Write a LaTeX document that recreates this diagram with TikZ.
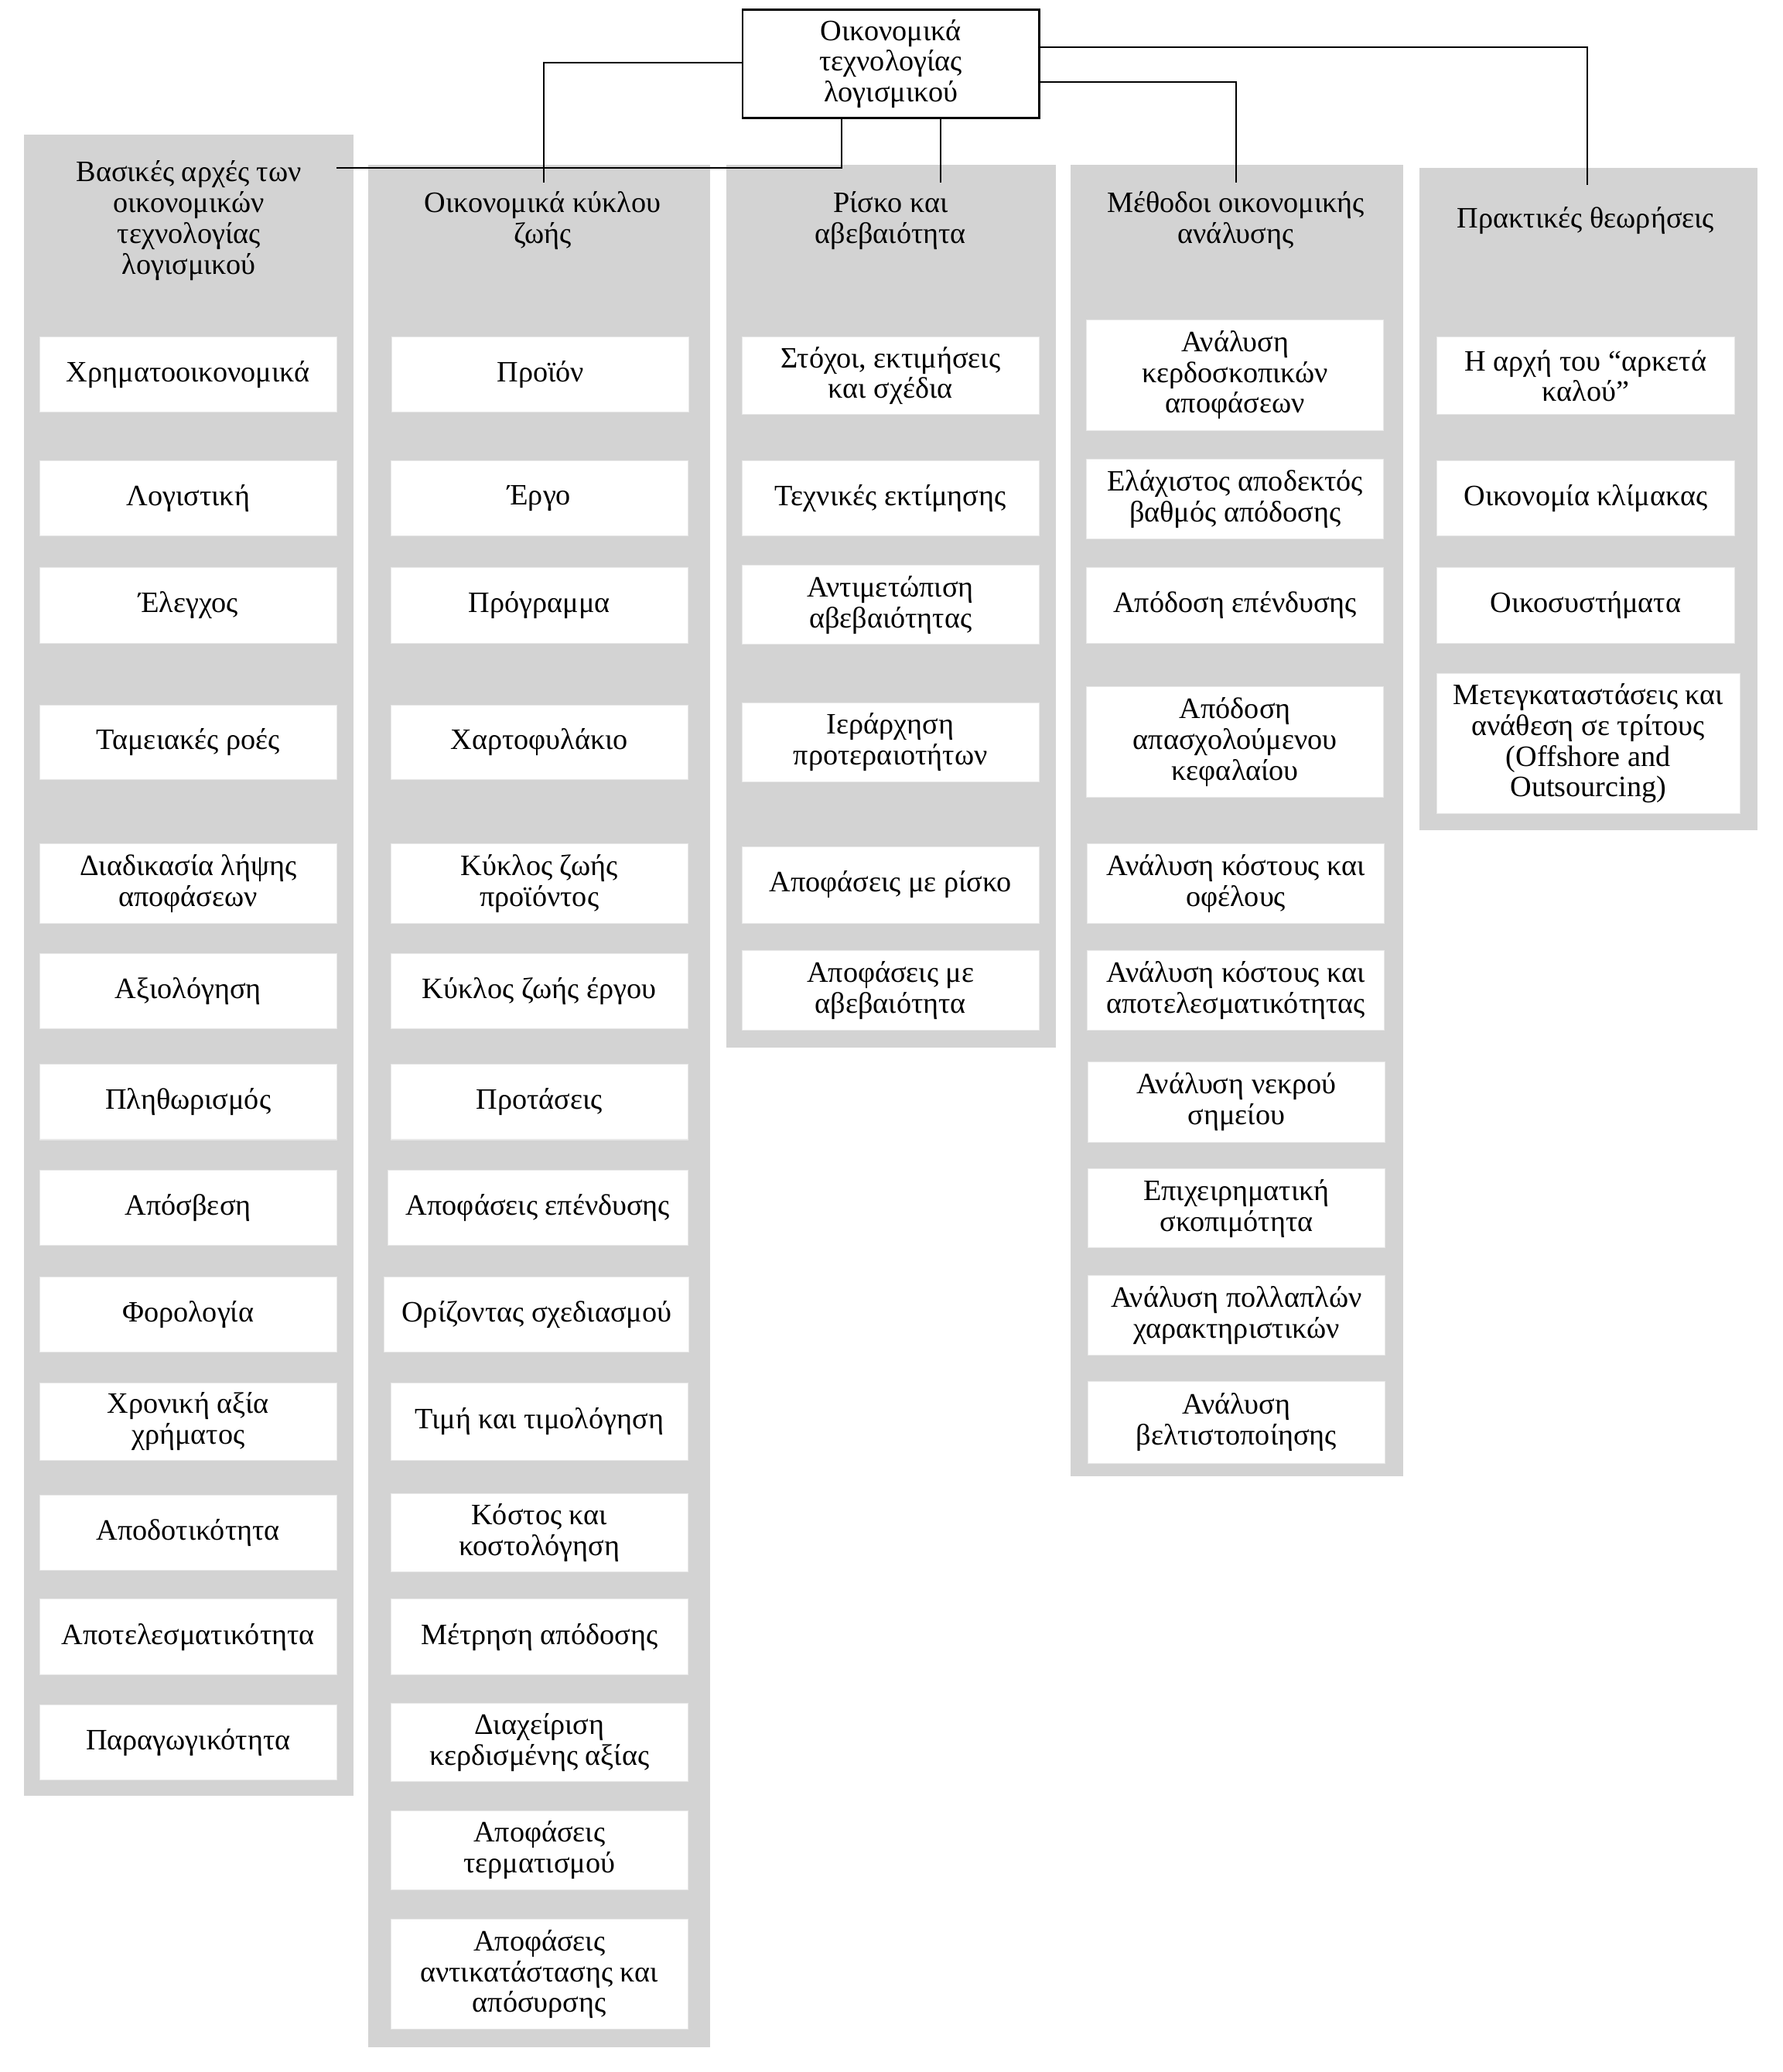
\documentclass[tikz,border=0pt]{standalone}
\usepackage{fontspec}
\setmainfont{Liberation Serif}
\definecolor{colgray}{RGB}{211,211,211}
\definecolor{boxedge}{RGB}{232,232,232}
\newcommand\wbx[6][225]{\node[wbox,minimum width=#1pt,minimum height=#5pt] (#2) at (#3,#4) {#6};}
\begin{document}
\begin{tikzpicture}[x=1pt,y=-1pt,
  every node/.style={font=\fontsize{22.4}{23.3}\selectfont, align=center, inner sep=0pt},
  wbox/.style={fill=white, draw=boxedge, line width=0.6pt},
  rootbox/.style={fill=white, draw=black, line width=1.6pt, minimum width=224.5pt, minimum height=82.3pt},
  link/.style={draw=black, line width=1.2pt}]
\useasboundingbox (0,0) rectangle (1350,1569);
\fill[white] (0,0) rectangle (1350,1569);
% columns
\fill[colgray] (18,102) rectangle (268,1360);
\fill[colgray] (279,125) rectangle (538,1550);
\fill[colgray] (550,125) rectangle (800,793);
\fill[colgray] (811,125) rectangle (1063,1118);
\fill[colgray] (1075,127) rectangle (1331,628.5);
% root
\node[rootbox] (root) at (674.75,48.35) {Οικονομικά\\τεχνολογίας\\λογισμικού};
% headers
\node (h1) at (143,167) {Βασικές αρχές των\\οικονομικών\\τεχνολογίας\\λογισμικού};
\node (h2) at (411,167) {Οικονομικά κύκλου\\ζωής};
\node (h3) at (674.5,167) {Ρίσκο και\\αβεβαιότητα};
\node (h4) at (936,167) {Μέθοδοι οικονομικής\\ανάλυσης};
\node (h5) at (1201,167) {Πρακτικές θεωρήσεις};
% column 1
\wbx{a1}{142.5}{283.5}{57}{Χρηματοοικονομικά}
\wbx{a2}{142.5}{377.5}{57}{Λογιστική}
\wbx{a3}{142.5}{458.5}{57}{Έλεγχος}
\wbx{a4}{142.5}{562}{56}{Ταμειακές ροές}
\wbx{a5}{142.5}{669}{60}{Διαδικασία λήψης\\αποφάσεων}
\wbx{a6}{142.5}{750.5}{57}{Αξιολόγηση}
\wbx{a7}{142.5}{834.5}{57}{Πληθωρισμός}
\wbx{a8}{142.5}{914.5}{57}{Απόσβεση}
\wbx{a9}{142.5}{995.5}{57}{Φορολογία}
\wbx{a10}{142.5}{1076.5}{59}{Χρονική αξία\\χρήματος}
\wbx{a11}{142.5}{1160.5}{57}{Αποδοτικότητα}
\wbx{a12}{142.5}{1239.5}{57}{Αποτελεσματικότητα}
\wbx{a13}{142.5}{1319.5}{57}{Παραγωγικότητα}
% column 2
\wbx{b1}{409.5}{283.5}{57}{Προϊόν}
\wbx{b2}{408.5}{377.5}{57}{Έργο}
\wbx{b3}{408.5}{458.5}{57}{Πρόγραμμα}
\wbx{b4}{408.5}{562}{56}{Χαρτοφυλάκιο}
\wbx{b5}{408.5}{669}{60}{Κύκλος ζωής\\προϊόντος}
\wbx{b6}{408.5}{750.5}{57}{Κύκλος ζωής έργου}
\wbx{b7}{408.5}{834.5}{57}{Προτάσεις}
\wbx[227]{b8}{407.5}{914.5}{57}{Αποφάσεις επένδυσης}
\wbx[231]{b9}{406.5}{995.5}{57}{Ορίζοντας σχεδιασμού}
\wbx{b10}{408.5}{1076.5}{59}{Τιμή και τιμολόγηση}
\wbx{b11}{408.5}{1160.5}{59}{Κόστος και\\κοστολόγηση}
\wbx{b12}{408.5}{1239.5}{57}{Μέτρηση απόδοσης}
\wbx{b13}{408.5}{1319.5}{59}{Διαχείριση\\κερδισμένης αξίας}
\wbx{b14}{408.5}{1401}{60}{Αποφάσεις\\τερματισμού}
\wbx{b15}{408.5}{1495}{83}{Αποφάσεις\\αντικατάστασης και\\απόσυρσης}
% column 3
\wbx{c1}{674.5}{284.5}{59}{Στόχοι, εκτιμήσεις\\και σχέδια}
\wbx{c2}{674.5}{377.5}{57}{Τεχνικές εκτίμησης}
\wbx{c3}{674.5}{458}{60}{Αντιμετώπιση\\αβεβαιότητας}
\wbx{c4}{674.5}{562}{60}{Ιεράρχηση\\προτεραιοτήτων}
\wbx{c5}{674.5}{670}{58}{Αποφάσεις με ρίσκο}
\wbx{c6}{674.5}{750}{60}{Αποφάσεις με\\αβεβαιότητα}
% column 4
\wbx{d1}{935.5}{284}{84}{Ανάλυση\\κερδοσκοπικών\\αποφάσεων}
\wbx{d2}{935.5}{378}{60}{Ελάχιστος αποδεκτός\\βαθμός απόδοσης}
\wbx{d3}{935.5}{458.5}{57}{Απόδοση επένδυσης}
\wbx{d4}{935.5}{562}{84}{Απόδοση\\απασχολούμενου\\κεφαλαίου}
\wbx{d5}{936}{669}{60}{Ανάλυση κόστους και\\οφέλους}
\wbx{d6}{936}{750}{60}{Ανάλυση κόστους και\\αποτελεσματικότητας}
\wbx{d7}{936.5}{834.5}{61}{Ανάλυση νεκρού\\σημείου}
\wbx{d8}{936.5}{915}{60}{Επιχειρηματική\\σκοπιμότητα}
\wbx{d9}{936.5}{996}{60}{Ανάλυση πολλαπλών\\χαρακτηριστικών}
\wbx{d10}{936.5}{1077}{62}{Ανάλυση\\βελτιστοποίησης}
% column 5
\wbx[226]{e1}{1201}{284.5}{59}{Η αρχή του “αρκετά\\καλού”}
\wbx[226]{e2}{1201}{377.5}{57}{Οικονομία κλίμακας}
\wbx[226]{e3}{1201}{458.5}{57}{Οικοσυστήματα}
\wbx[230]{e4}{1203}{563}{106}{Μετεγκαταστάσεις και\\ανάθεση σε τρίτους\\(Offshore and\\Outsourcing)}
% connector ends
\coordinate (t1) at (255,127);
\coordinate (t2) at (412,138);
\coordinate (t3) at (712.5,138);
\coordinate (t4) at (936,138);
\coordinate (t5) at (1202,140);
% connectors
\draw[link] ([xshift=-37.15pt]root.south) |- (t1);
\draw[link] ([yshift=1pt]root.west) -| (t2);
\draw[link] (root.south -| t3) -- (t3);
\draw[link] ([yshift=-13.75pt]root.east) -| (t4);
\draw[link] ([yshift=12.65pt]root.east) -| (t5);
\end{tikzpicture}
\end{document}
